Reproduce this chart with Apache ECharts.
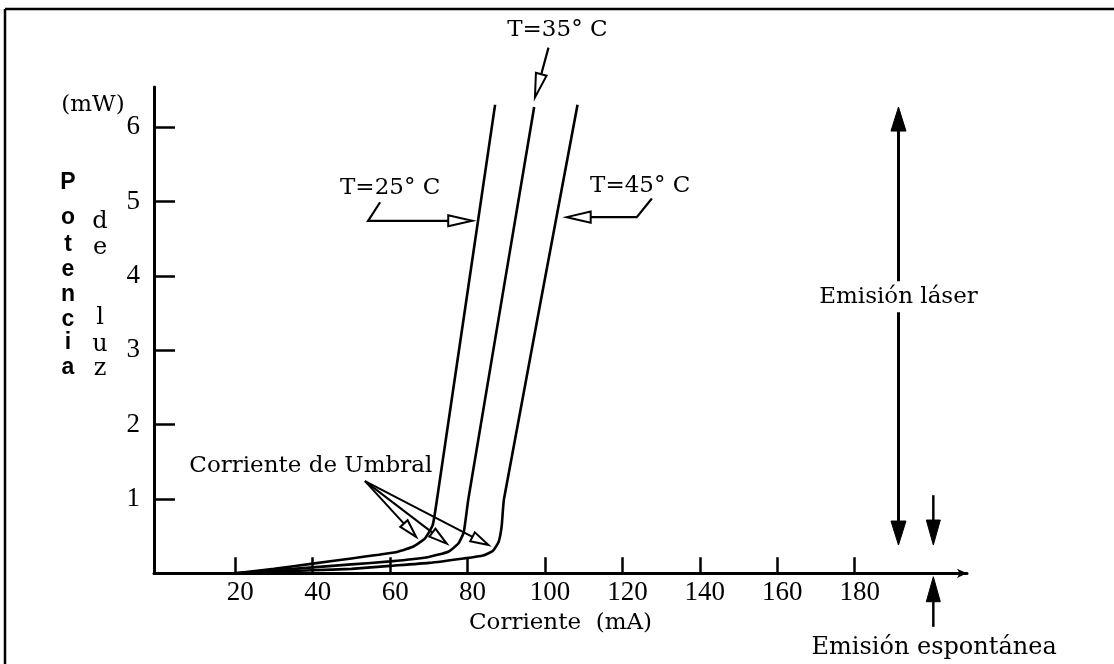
<!DOCTYPE html>
<html><head><meta charset="utf-8">
<script src="https://cdn.jsdelivr.net/npm/echarts@6/dist/echarts.min.js"></script>
<style>html,body{margin:0;padding:0;background:#fff}#c{width:1114px;height:664px}</style>
</head><body><div id="c"></div>
<script>
// ---- data ----
const xTicks = [20, 40, 60, 80, 100, 120, 140, 160, 180];
const yTicks = [1, 2, 3, 4, 5, 6];
const curveNames = ['T=25° C', 'T=35° C', 'T=45° C'];
const curve25 = [[20,0],[30,0.06],[40,0.13],[50,0.2],[57,0.25],[62,0.29],[66,0.36],[69,0.47],[71,0.65],[72.2,1.03],[87.1,6.3]];
const curve35 = [[20,0],[30,0.04],[40,0.08],[50,0.12],[60,0.16],[70,0.22],[75,0.29],[77.6,0.4],[79,0.55],[80.2,1.0],[97.2,6.27]];
const curve45 = [[20,0],[30,0.02],[40,0.04],[50,0.06],[60,0.1],[70,0.14],[79,0.2],[84,0.24],[86.5,0.3],[88,0.42],[88.8,0.63],[89.4,1.0],[108.4,6.3]];
const xName = 'Corriente  (mA)';
const yUnit = '(mW)';
const yTitleA = ['P','o','t','e','n','c','i','a'];
const yTitleB = ['d','e','l','u','z'];
const labelLaser = 'Emisión láser';
const labelEsp = 'Emisión espontánea';
const labelUmbral = 'Corriente de Umbral';

const chart = echarts.init(document.getElementById('c'), null, {renderer: 'canvas'});
const serif = '"DejaVu Serif", serif';
const numFont = '"Liberation Serif", serif';

const option = {
  backgroundColor: '#fff',
  animation: false,
  grid: {left: 154, right: 147, top: 87, bottom: 90.7, containLabel: false},
  xAxis: {
    type: 'value', min: -1, max: 209,
    axisLine: {show: true, onZero: true, lineStyle: {color: '#000', width: 3}, symbol: ['none', 'arrow'], symbolSize: [7, 10]},
    axisTick: {show: true, inside: true, length: 16, lineStyle: {color: '#000', width: 2.5}, customValues: xTicks},
    axisLabel: {customValues: xTicks, fontFamily: numFont, fontSize: 27, color: '#000', margin: 6, padding: [0, 0, 0, 10]},
    splitLine: {show: false},
    name: xName, nameLocation: 'middle', nameGap: 29,
    nameTextStyle: {fontFamily: serif, fontSize: 23, color: '#000'}
  },
  yAxis: {
    type: 'value', min: 0, max: 6.54,
    axisLine: {show: true, onZero: false, lineStyle: {color: '#000', width: 3}},
    axisTick: {show: true, inside: true, length: 21, lineStyle: {color: '#000', width: 2.5}, customValues: yTicks},
    axisLabel: {customValues: yTicks, fontFamily: numFont, fontSize: 27, color: '#000', margin: 14, padding: [8, 0, 0, 0]},
    splitLine: {show: false}
  },
  series: [curve25, curve35, curve45].map((d, i) => ({
    name: curveNames[i], type: 'line', data: d, showSymbol: false, smooth: 0.15,
    lineStyle: {color: '#000', width: 2.6}, clip: false
  }))
};
chart.setOption(option);

function P(p) { return chart.convertToPixel({gridIndex: 0}, p); }

function arrow(pts, o) {
  const px = pts.map(P);
  const tip = px[px.length - 1], prev = px[px.length - 2];
  const dx = tip[0] - prev[0], dy = tip[1] - prev[1], L = Math.hypot(dx, dy);
  const ux = dx / L, uy = dy / L, nx = -uy, ny = ux, w = o.hw / 2;
  const base = [tip[0] - ux * o.hl, tip[1] - uy * o.hl];
  const head = [tip, [base[0] + nx * w, base[1] + ny * w], [base[0] - nx * w, base[1] - ny * w]];
  const shaft = px.slice(0, -1).concat([base]);
  return [
    {type: 'polyline', z: 100, shape: {points: shaft}, style: {stroke: '#000', lineWidth: o.lw, fill: null}},
    {type: 'polygon', z: 101, shape: {points: head}, style: {fill: o.hollow ? '#fff' : '#000', stroke: '#000', lineWidth: o.hollow ? 2 : 1}}
  ];
}
function text(str, p, o) {
  const q = P(p);
  return {type: 'text', z: 110, x: q[0], y: q[1], style: Object.assign({
    text: str, font: '23px ' + serif, fill: '#000', align: 'center', verticalAlign: 'middle'}, o || {})};
}
function ptext(str, x, y, font) {
  return {type: 'text', z: 110, x: x, y: y, style: {text: str, font: font, fill: '#000', align: 'center', verticalAlign: 'middle'}};
}

const hollowT = {hl: 24, hw: 11, lw: 2.2, hollow: true};
const hollowU = {hl: 18, hw: 10, lw: 2, hollow: true};
const filled = {hl: 24, hw: 15, lw: 3, hollow: false};
const filledS = {hl: 25, hw: 14, lw: 2.5, hollow: false};

let g = [];
// frame
g.push({type: 'line', z: 50, shape: {x1: 5, y1: 9, x2: 1114, y2: 9}, style: {stroke: '#000', lineWidth: 2.5}});
g.push({type: 'line', z: 50, shape: {x1: 5, y1: 9, x2: 5, y2: 664}, style: {stroke: '#000', lineWidth: 2.5}});
// y title
g.push(ptext(yUnit, 93, 105, '23px ' + serif));
const yA = [183, 218, 245, 270, 295, 320, 343, 368];
yTitleA.forEach((c, i) => g.push(ptext(c, 68, yA[i], 'bold 23px "Liberation Sans", sans-serif')));
const yB = [222, 248, 318, 345, 369];
yTitleB.forEach((c, i) => g.push(ptext(c, 100, yB[i], '24px ' + serif)));
// temperature labels and arrows
g.push(text(curveNames[1], [103.2, 7.30]));
g = g.concat(arrow([[100.9, 7.07], [97.4, 6.40]], hollowT));
g.push(text(curveNames[0], [60.0, 5.18]));
g = g.concat(arrow([[57.4, 4.99], [54.3, 4.74], [81.2, 4.74]], hollowT));
g.push(text(curveNames[2], [124.6, 5.21]));
g = g.concat(arrow([[127.6, 5.04], [123.7, 4.79], [105.6, 4.79]], hollowT));
// threshold
g.push(text(labelUmbral, [39.5, 1.44]));
[[66.7, 0.49], [74.6, 0.40], [85.4, 0.38]].forEach(t => { g = g.concat(arrow([[53.5, 1.24], t], hollowU)); });
// laser emission double arrow
g = g.concat(arrow([[191.3, 3.72], [191.3, 6.27]], filled));
g = g.concat(arrow([[191.3, 3.72], [191.3, 0.38]], filled));
g.push(text(labelLaser, [191.3, 3.72], {backgroundColor: '#fff', padding: [4, 2]}));
// spontaneous
g = g.concat(arrow([[200.3, 1.05], [200.3, 0.38]], filledS));
g = g.concat(arrow([[200.3, -0.72], [200.3, -0.046]], filledS));
g.push(text(labelEsp, [200.5, -1.0], {font: '24px ' + serif}));

chart.setOption({graphic: {elements: g}});
</script></body></html>
